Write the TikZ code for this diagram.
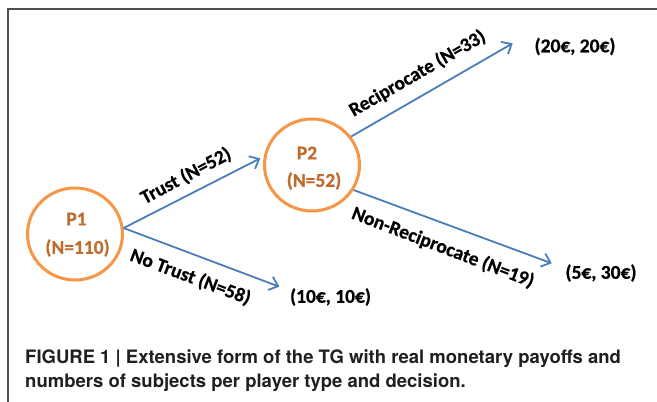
\documentclass[tikz,border=0pt]{standalone}
\usepackage{fontspec}
\setmainfont{Carlito}[BoldFeatures={FakeBold=0.6}]
\newfontfamily\capfont{TeX Gyre Heros}
\usetikzlibrary{arrows.meta,shapes.geometric}
\definecolor{orng}{HTML}{F79646}
\definecolor{orngtxt}{RGB}{192,108,46}
\definecolor{arrblue}{HTML}{4A7EBB}
\definecolor{capcol}{HTML}{231F20}
\definecolor{framecol}{HTML}{505050}
\begin{document}
\begin{tikzpicture}[x=1pt,y=-1pt,
  player/.style={ellipse,draw=orng,line width=3pt,minimum width=95pt,minimum height=92pt,inner sep=0pt},
  ptext/.style={font=\fontsize{19.5}{23}\selectfont\bfseries,text=orngtxt,inner sep=0pt},
  lbl/.style={font=\fontsize{19.5}{23}\selectfont\bfseries,text=black,inner sep=0pt},
  payoff/.style={font=\fontsize{19.5}{23}\selectfont\bfseries,text=black,inner sep=0pt},
  move/.style={draw=arrblue,line width=1.8pt,-{Straight Barb[length=8pt,width=14pt,line width=1.8pt]}},
  captext/.style={font=\capfont\fontsize{18.5}{24.7}\selectfont\bfseries,text=capcol,inner sep=0pt,anchor=base west}]
\useasboundingbox (0,0) rectangle (657,402);
\fill[white] (0,0) rectangle (657,402);
\draw[framecol,line width=1.3pt] (657,9) -- (8,9) -- (8,402);

% players
\node[player] (P1) at (75,234) {};
\node[player] (P2) at (312,165) {};
\node[ptext] (P1a) at (76.5,219) {P1};
\node[ptext] (P1b) at (77.5,248) {(N=110)};
\node[ptext] (P2a) at (307,153) {P2};
\node[ptext] (P2b) at (314,181) {(N=52)};

% payoffs
\node[payoff] (o1) at (575,46.5) {(20€, 20€)};
\node[payoff] (o2) at (601,273) {(5€, 30€)};
\node[payoff] (o3) at (330.5,297) {(10€, 10€)};

\coordinate (t1) at (512.7,43.3);
\coordinate (t2) at (551.7,263.3);
\coordinate (t3) at (279.3,286.7);

% moves
\draw[move,shorten >=4pt] (P1.7) -- (P2.170);
\draw[move] (P1.7) -- (t3);
\draw[move] (P2.36) -- (t1);
\draw[move] (P2.-31) -- (t2);

% labels
\node[lbl,rotate=28] (l1) at (186,176) {Trust (N=52)};
\node[lbl,rotate=-20.5] (l2) at (190.5,277) {No Trust (N=58)};
\node[lbl,rotate=30] (l3) at (417.5,73.5) {Reciprocate (N=33)};
\node[lbl,rotate=-21] (l4) at (443,247.5) {Non-Reciprocate (N=19)};

% caption
\node[captext] (c1) at (25,363.3) {FIGURE 1 | Extensive form of the TG with real monetary payoffs and};
\node[captext] (c2) at (25,387.7) {numbers of subjects per player type and decision.};
\end{tikzpicture}
\end{document}
